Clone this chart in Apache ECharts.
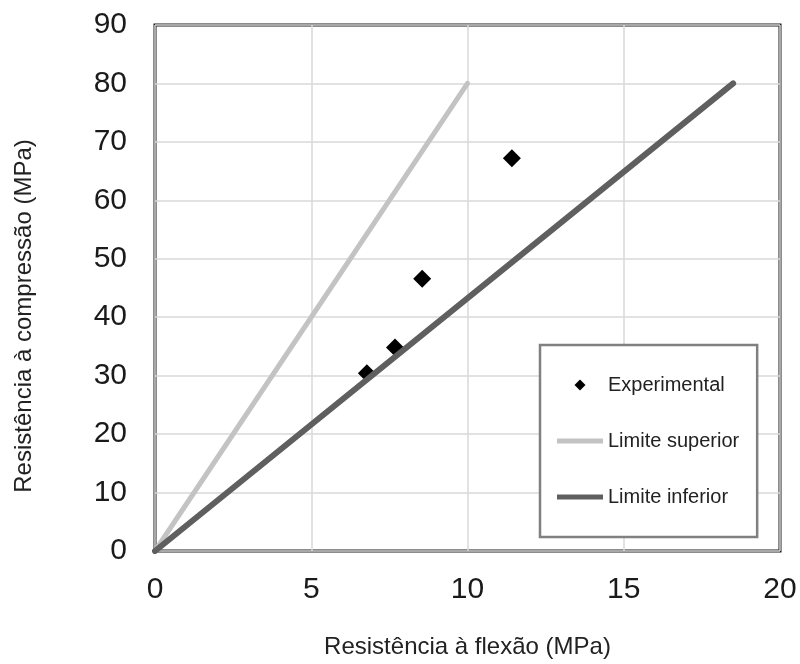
<!DOCTYPE html>
<html>
<head>
<meta charset="utf-8">
<script src="https://cdn.jsdelivr.net/npm/echarts@6/dist/echarts.min.js"></script>
<style>html,body{margin:0;padding:0;background:#fff}#c{width:800px;height:664px}</style>
</head>
<body>
<div id="c"></div>
<script>
var experimental = [[6.78, 30.4], [7.68, 34.8], [8.55, 46.6], [11.42, 67.2]];
var limiteSuperior = [[0, 0], [10, 80]];
var limiteInferior = [[0, 0], [18.5, 80]];
var xName = 'Resistência à flexão (MPa)';
var yName = 'Resistência à compressão (MPa)';
var seriesNames = ['Experimental', 'Limite superior', 'Limite inferior'];

var chart = echarts.init(document.getElementById('c'));
var font = 'Liberation Sans, Arial, sans-serif';
var diamondIcon = 'path://M5,0L10,5L5,10L0,5Z';
var barIcon = 'path://M0,0H92V10H0Z';
chart.setOption({
  animation: false,
  backgroundColor: '#fff',
  grid: { left: 155, right: 20, top: 25, bottom: 109, show: true, borderColor: '#1a1a1a', borderWidth: 3, containLabel: false },
  xAxis: {
    type: 'value', min: 0, max: 20, interval: 5,
    name: xName, nameLocation: 'middle', nameGap: 84,
    nameTextStyle: { fontFamily: font, fontSize: 24, color: '#222' },
    axisLine: { show: false }, axisTick: { show: false },
    axisLabel: { fontFamily: font, fontSize: 30, color: '#1a1a1a', margin: 24 },
    splitLine: { show: true, lineStyle: { color: '#d9d9d9', width: 1.5 } }
  },
  yAxis: {
    type: 'value', min: 0, max: 90, interval: 10,
    name: yName, nameLocation: 'middle', nameGap: 119,
    nameTextStyle: { fontFamily: font, fontSize: 24, color: '#222', padding: [0, 56, 0, 0] },
    axisLine: { show: false }, axisTick: { show: false },
    axisLabel: { fontFamily: font, fontSize: 30, color: '#1a1a1a', margin: 28 },
    splitLine: { show: true, lineStyle: { color: '#d9d9d9', width: 1.5 } }
  },
  legend: {
    orient: 'vertical', left: 540, top: 345,
    padding: [30, 18, 30, 17],
    itemGap: 36, itemWidth: 46, itemHeight: 11,
    symbolKeepAspect: true,
    borderColor: '#808080', borderWidth: 2.5, backgroundColor: '#fff',
    textStyle: { fontFamily: font, fontSize: 20, color: '#222' },
    data: [
      { name: seriesNames[0], icon: diamondIcon },
      { name: seriesNames[1], icon: barIcon },
      { name: seriesNames[2], icon: barIcon }
    ]
  },
  series: [
    {
      name: seriesNames[0], type: 'scatter', data: experimental,
      symbol: 'diamond', symbolSize: 18, symbolKeepAspect: true,
      itemStyle: { color: '#000', opacity: 1 }
    },
    {
      name: seriesNames[1], type: 'line', data: limiteSuperior,
      symbol: 'none', showSymbol: false,
      lineStyle: { color: '#c3c3c3', width: 5, cap: 'round' },
      itemStyle: { color: '#c3c3c3' }
    },
    {
      name: seriesNames[2], type: 'line', data: limiteInferior,
      symbol: 'none', showSymbol: false,
      lineStyle: { color: '#5f5f5f', width: 6, cap: 'round' },
      itemStyle: { color: '#5f5f5f' }
    }
  ]
});
</script>
</body>
</html>
